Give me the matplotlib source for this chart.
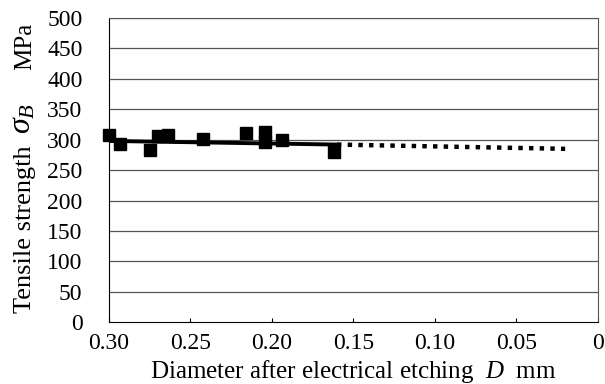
import matplotlib
matplotlib.use("Agg")
import matplotlib.pyplot as plt

# measured points (diameter mm, tensile strength MPa)
diameter = [0.300, 0.293, 0.275, 0.270, 0.264, 0.242, 0.216, 0.204, 0.204, 0.194, 0.162]
strength = [307, 293, 283, 306, 307, 301, 311, 312, 296, 299, 280]

# trend line: solid over measured range, dotted extrapolation
fit_x = [0.30, 0.16]
fit_y = [298, 292]
ext_x = [0.16, 0.02]
ext_y = [292, 285]

yticks = [0, 50, 100, 150, 200, 250, 300, 350, 400, 450, 500]
xticks = [0.30, 0.25, 0.20, 0.15, 0.10, 0.05, 0]
xtick_labels = ["0.30", "0.25", "0.20", "0.15", "0.10", "0.05", "0"]

plt.rcParams["font.family"] = ["Liberation Serif", "DejaVu Serif"]
plt.rcParams["mathtext.fontset"] = "custom"
plt.rcParams["mathtext.it"] = "Liberation Serif:italic"
plt.rcParams["mathtext.rm"] = "Liberation Serif"

fig = plt.figure(figsize=(6.05, 3.84), dpi=100)
ax = fig.add_axes([0.180, 0.161, 0.808, 0.792])

for y in yticks[1:]:
    ax.axhline(y, color="#555555", lw=0.9, zorder=1)

ax.plot(fit_x, fit_y, color="black", lw=2.8, zorder=3)
ax.plot(ext_x, ext_y, color="black", lw=3.2, ls=(0, (1, 1.4)), zorder=3)
ax.plot(diameter, strength, ls="none", marker="s", ms=8, color="black",
        zorder=4, clip_on=False)

ax.set_xlim(0.30, 0)
ax.set_ylim(0, 500)
ax.set_xticks(xticks)
ax.set_xticklabels(xtick_labels)
ax.set_yticks(yticks)

ax.tick_params(axis="x", direction="in", length=3, pad=8, labelsize=17)
ax.tick_params(axis="y", length=0, pad=19, labelsize=17)

for side in ["top", "right"]:
    ax.spines[side].set_color("#555555")
ax.spines["left"].set_color("black")
ax.spines["bottom"].set_color("black")

ax.set_xlabel(r"Diameter after electrical etching  $D$  mm", fontsize=18, labelpad=3)

# y label built from pieces so the symbol can be larger
fig.text(0.041, 0.185, "Tensile strength", rotation=90, ha="center", va="bottom", fontsize=19)
fig.text(0.038, 0.650, r"$\sigma_B$", rotation=90, ha="center", va="bottom", fontsize=23)
fig.text(0.041, 0.818, "MPa", rotation=90, ha="center", va="bottom", fontsize=18)

fig.savefig("out.png", dpi=100)
